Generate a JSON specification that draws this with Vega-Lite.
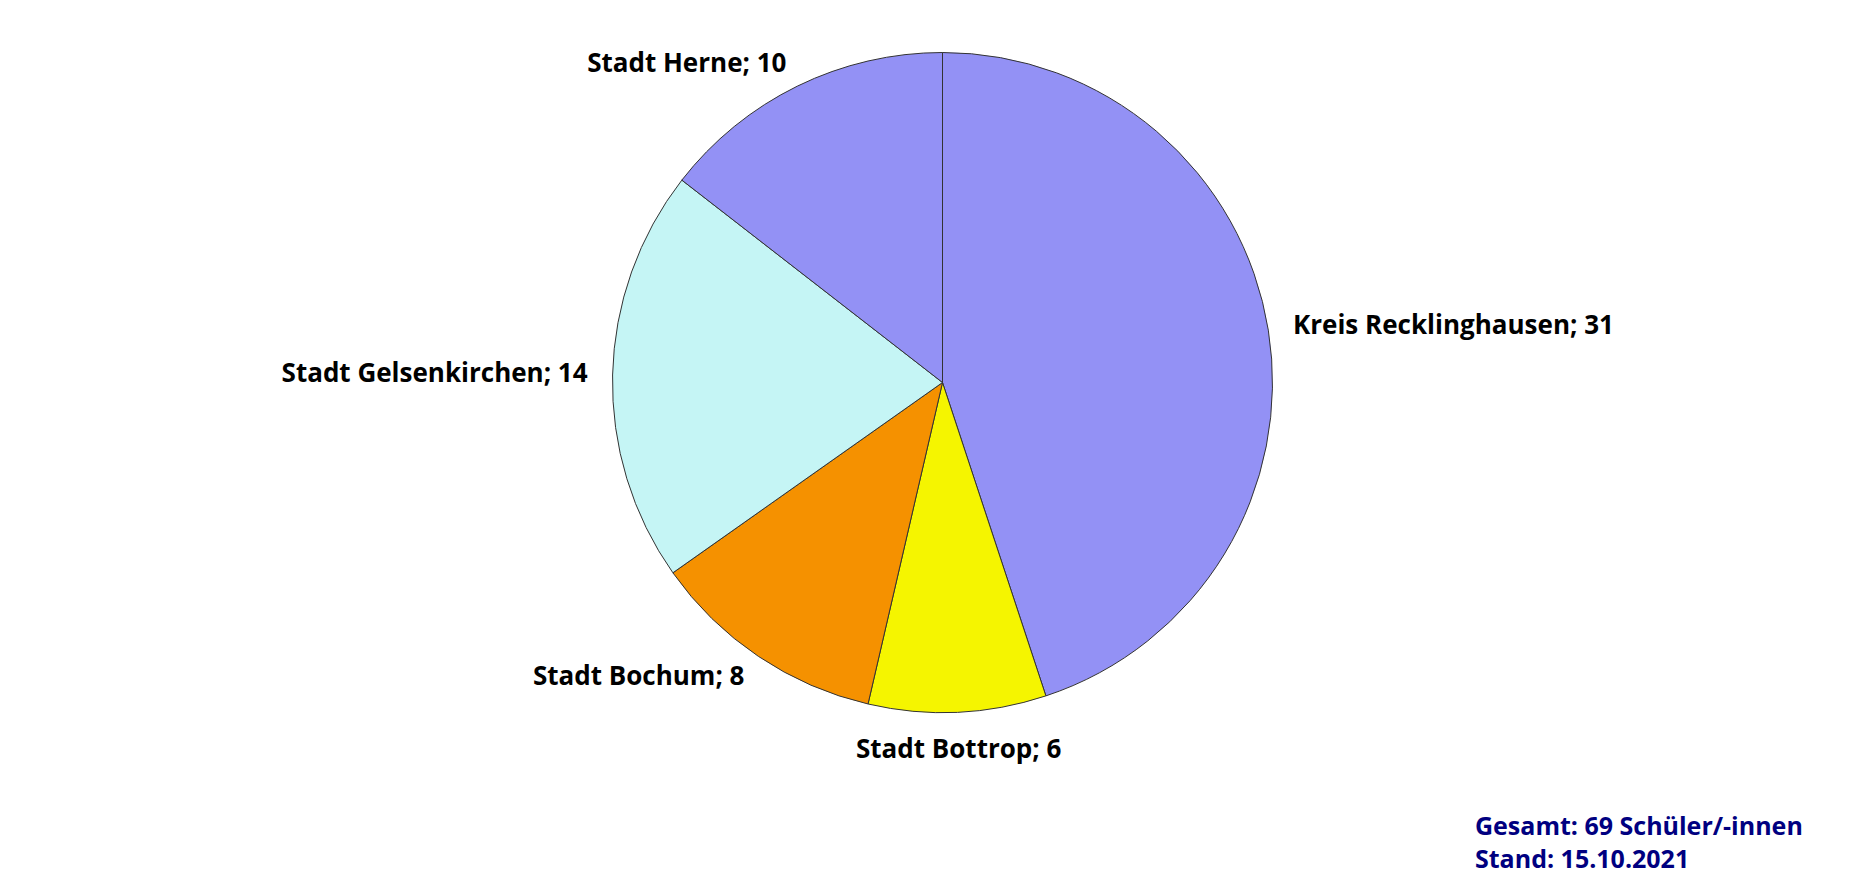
{
  "$schema": "https://vega.github.io/schema/vega-lite/v6.json",
  "width": 1869,
  "height": 883,
  "autosize": {"type": "fit", "contains": "padding"},
  "padding": {"left": 30, "right": 14, "top": 0, "bottom": 10},
  "background": "white",
  "config": {"view": {"stroke": null}, "font": "Open Sans"},
  "title": {
    "text": "Gesamt: 69 Schüler/-innen",
    "subtitle": "Stand: 15.10.2021",
    "orient": "bottom",
    "anchor": "end",
    "align": "left",
    "dx": -380,
    "offset": 50,
    "font": "Open Sans",
    "fontSize": 25,
    "fontWeight": "bold",
    "color": "#000080",
    "subtitleFont": "Open Sans",
    "subtitleFontSize": 25,
    "subtitleFontWeight": "bold",
    "subtitleColor": "#000080",
    "subtitlePadding": 8
  },
  "data": {
    "values": [
      {"region": "Kreis Recklinghausen", "label": "Kreis Recklinghausen; 31", "n": 31, "ord": 1, "side": "right"},
      {"region": "Stadt Bottrop", "label": "Stadt Bottrop; 6", "n": 6, "ord": 2, "side": "bottom"},
      {"region": "Stadt Bochum", "label": "Stadt Bochum; 8", "n": 8, "ord": 3, "side": "left"},
      {"region": "Stadt Gelsenkirchen", "label": "Stadt Gelsenkirchen; 14", "n": 14, "ord": 4, "side": "left"},
      {"region": "Stadt Herne", "label": "Stadt Herne; 10", "n": 10, "ord": 5, "side": "left"}
    ]
  },
  "encoding": {
    "theta": {"field": "n", "type": "quantitative", "stack": true},
    "order": {"field": "ord", "type": "quantitative"}
  },
  "layer": [
    {
      "mark": {"type": "arc", "outerRadius": 330, "stroke": "#333333", "strokeWidth": 1},
      "encoding": {
        "color": {
          "field": "region",
          "type": "nominal",
          "legend": null,
          "scale": {
            "domain": ["Kreis Recklinghausen", "Stadt Bottrop", "Stadt Bochum", "Stadt Gelsenkirchen", "Stadt Herne"],
            "range": ["#9391F5", "#F5F500", "#F59100", "#C5F5F5", "#9391F5"]
          }
        }
      }
    },
    {
      "mark": {"type": "text", "radius": 355, "align": "left", "baseline": "middle", "fontSize": 26, "fontWeight": "bold", "color": "black"},
      "encoding": {
        "text": {"condition": {"test": "datum.side == 'right'", "field": "label"}, "value": ""}
      }
    },
    {
      "mark": {"type": "text", "radius": 355, "align": "right", "baseline": "middle", "fontSize": 26, "fontWeight": "bold", "color": "black"},
      "encoding": {
        "text": {"condition": {"test": "datum.side == 'left'", "field": "label"}, "value": ""}
      }
    },
    {
      "mark": {"type": "text", "radius": 355, "align": "center", "baseline": "top", "fontSize": 26, "fontWeight": "bold", "color": "black"},
      "encoding": {
        "text": {"condition": {"test": "datum.side == 'bottom'", "field": "label"}, "value": ""}
      }
    }
  ]
}
